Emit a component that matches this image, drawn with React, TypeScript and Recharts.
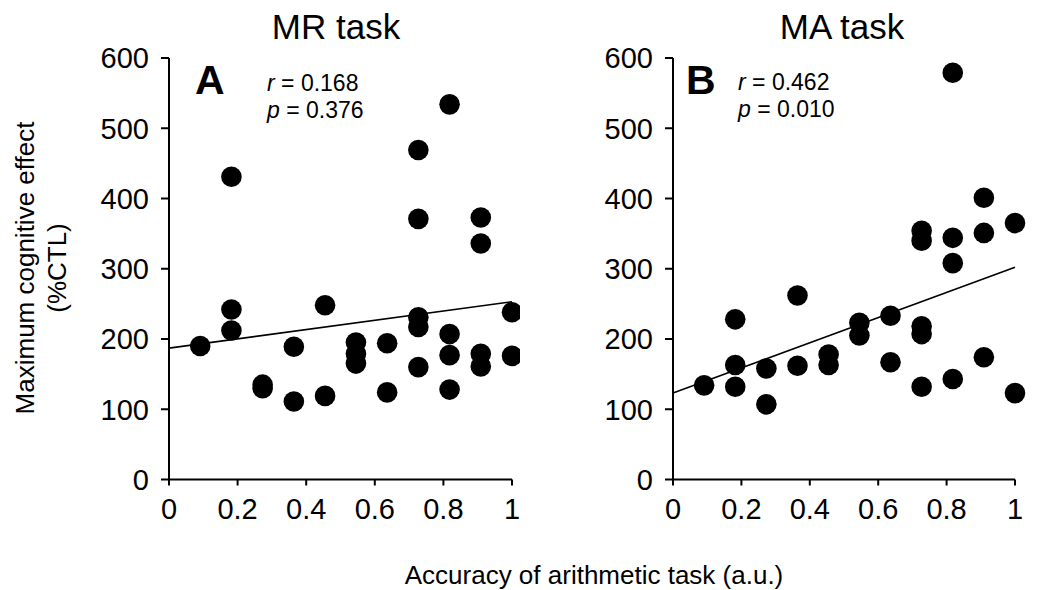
import React from 'react';
import { ScatterChart, Scatter, XAxis, YAxis, ReferenceLine } from 'recharts';

const FONT = '"Liberation Sans", Arial, Helvetica, sans-serif';

const xTicks = [0, 0.2, 0.4, 0.6, 0.8, 1];
const yTicks = [0, 100, 200, 300, 400, 500, 600];

// Panel A: MR task
const mrX = [0.091, 0.182, 0.182, 0.182, 0.273, 0.273, 0.364, 0.364, 0.455, 0.455, 0.545, 0.545, 0.545, 0.636, 0.636, 0.727, 0.727, 0.727, 0.727, 0.727, 0.818, 0.818, 0.818, 0.818, 0.909, 0.909, 0.909, 0.909, 1, 1];
const mrY = [190, 431, 242, 212, 135, 130, 189, 111, 248, 119, 195, 179, 165, 194, 124, 469, 371, 231, 217, 160, 534, 207, 177, 128, 373, 336, 179, 161, 238, 176];
const mrFitX = [0, 1];
const mrFitY = [187, 253];

// Panel B: MA task
const maX = [0.091, 0.182, 0.182, 0.182, 0.273, 0.273, 0.364, 0.364, 0.455, 0.455, 0.545, 0.545, 0.636, 0.636, 0.727, 0.727, 0.727, 0.727, 0.727, 0.818, 0.818, 0.818, 0.818, 0.909, 0.909, 0.909, 1, 1];
const maY = [134, 228, 163, 132, 158, 107, 262, 162, 178, 163, 223, 205, 233, 167, 354, 340, 218, 207, 132, 579, 344, 308, 143, 401, 351, 174, 365, 123];
const maFitX = [0, 1];
const maFitY = [123, 302];

const toPoints = (xs: number[], ys: number[]) => xs.map((x, i) => ({ x, y: ys[i] }));

const Dot = (p: any) => <circle cx={p.cx} cy={p.cy} r={10.3} fill="#000" />;

const axisStroke = { stroke: '#000', strokeWidth: 2 };

function Panel(props: {
  xs: number[]; ys: number[]; fx: number[]; fy: number[];
  width: number; yAxisWidth: number; marginRight: number;
}) {
  const data = toPoints(props.xs, props.ys);
  return (
    <ScatterChart
      width={props.width}
      height={590}
      margin={{ top: 58, right: props.marginRight, left: 0, bottom: 70.5 }}
    >
      <XAxis
        dataKey="x"
        type="number"
        domain={[0, 1]}
        ticks={xTicks}
        interval={0}
        height={40}
        tickSize={6}
        tickMargin={13}
        axisLine={axisStroke}
        tickLine={axisStroke}
        tick={{ fill: '#000', fontSize: 29, fontFamily: FONT }}
      />
      <YAxis
        dataKey="y"
        type="number"
        domain={[0, 600]}
        ticks={yTicks}
        interval={0}
        width={props.yAxisWidth}
        tickSize={8}
        tickMargin={12}
        axisLine={axisStroke}
        tickLine={axisStroke}
        tick={{ fill: '#000', fontSize: 29, fontFamily: FONT }}
      />
      <ReferenceLine
        segment={[{ x: props.fx[0], y: props.fy[0] }, { x: props.fx[1], y: props.fy[1] }]}
        stroke="#000"
        strokeWidth={1.6}
      />
      <Scatter data={data} shape={Dot} isAnimationActive={false} />
    </ScatterChart>
  );
}

export default function App() {
  return (
    <div style={{ position: 'absolute', left: 0, top: 0, width: 1042, height: 590, background: '#fff', fontFamily: FONT }}>
      <div style={{ position: 'absolute', left: 0, top: 0 }}>
        <Panel xs={mrX} ys={mrY} fx={mrFitX} fy={mrFitY} width={520} yAxisWidth={169} marginRight={8} />
      </div>
      <div style={{ position: 'absolute', left: 520, top: 0 }}>
        <Panel xs={maX} ys={maY} fx={maFitX} fy={maFitY} width={522} yAxisWidth={153} marginRight={27} />
      </div>
      <svg width={1042} height={590} style={{ position: 'absolute', left: 0, top: 0, pointerEvents: 'none' }} fontFamily={FONT}>
        <text x={336} y={39} textAnchor="middle" fontSize={35} fill="#000">MR task</text>
        <text x={842} y={39} textAnchor="middle" fontSize={35} fill="#000">MA task</text>
        <text x={195} y={94} fontSize={41} fontWeight="bold" fill="#000">A</text>
        <text x={686} y={94} fontSize={41} fontWeight="bold" fill="#000">B</text>
        <text x={267} y={91} fontSize={23} fill="#000"><tspan fontStyle="italic">r</tspan> = 0.168</text>
        <text x={267} y={118} fontSize={23} fill="#000"><tspan fontStyle="italic">p</tspan> = 0.376</text>
        <text x={738} y={90} fontSize={23} fill="#000"><tspan fontStyle="italic">r</tspan> = 0.462</text>
        <text x={738} y={117} fontSize={23} fill="#000"><tspan fontStyle="italic">p</tspan> = 0.010</text>
        <text transform="translate(34,268) rotate(-90)" textAnchor="middle" fontSize={26} fill="#000">Maximum cognitive effect</text>
        <text transform="translate(66,268) rotate(-90)" textAnchor="middle" fontSize={26} fill="#000">(%CTL)</text>
        <text x={594} y={584} textAnchor="middle" fontSize={26} fill="#000">Accuracy of arithmetic task (a.u.)</text>
      </svg>
    </div>
  );
}
